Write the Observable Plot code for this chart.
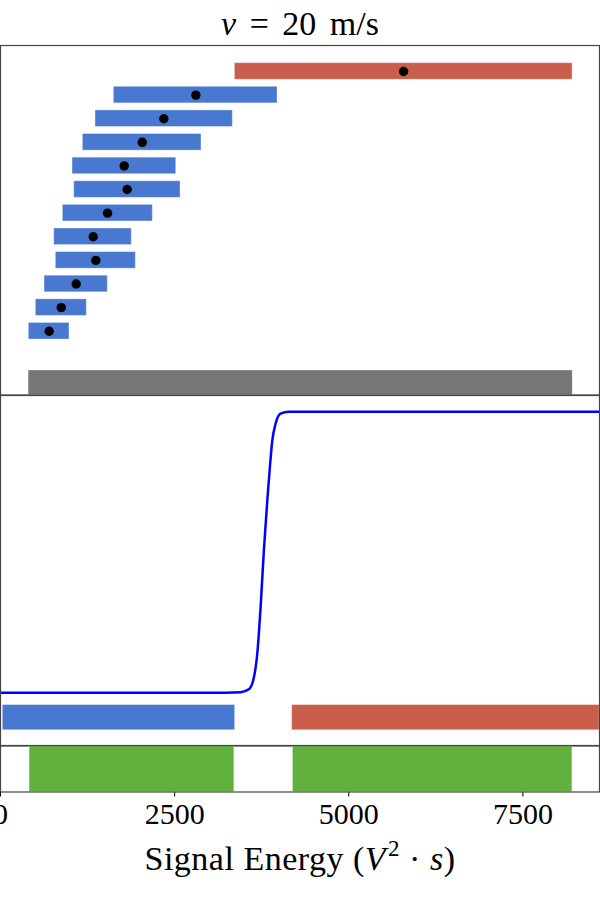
<!DOCTYPE html>
<html><head><meta charset="utf-8">
<script src="https://cdn.jsdelivr.net/npm/d3@7"></script>
<script src="https://cdn.jsdelivr.net/npm/@observablehq/plot@0.6"></script>
<style>
body{margin:0;background:#fff;}
#root{position:relative;width:600px;height:900px;overflow:hidden;font-family:"Liberation Serif",serif;background:#fff;}
.panel{position:absolute;left:0;}
.t{position:absolute;left:0;width:600px;text-align:center;font-size:34px;line-height:34px;color:#000;white-space:nowrap;}
</style></head><body><div id="root"></div>
<script>
// ---- data ----
const xDomain = [0, 8600];
const xTicks = [0, 2500, 5000, 7500];
// top panel: interval rows (top to bottom)
const rowClass = ["high","low","low","low","low","low","low","low","low","low","low","low"];
const rowLo  = [3365, 1627, 1364, 1182, 1034, 1058,  895,  771,  794,  632,  507,  406];
const rowHi  = [8214, 3978, 3336, 2886, 2523, 2585, 2187, 1885, 1943, 1541, 1239,  991];
const rowMed = [5787, 2805, 2345, 2035, 1776, 1819, 1537, 1331, 1369, 1087,  872,  699];
// overall range (gray)
const allRange = [406, 8214];
// middle panel: fitted probability curve
const sigE = [0, 3000, 3450, 3566, 3637, 3686, 3734, 3781, 3830, 3867, 3902, 3949, 4021, 4140, 4600, 8600];
const sigP = [0, 0, 0.002, 0.012, 0.053, 0.137, 0.303, 0.505, 0.683, 0.801, 0.897, 0.957, 0.993, 1, 1, 1];
// middle panel: class intervals
const clsName = ["low", "high"];
const clsLo = [33, 4187];
const clsHi = [3369, 8600];
// bottom panel: green intervals
const greenLo = [418, 4199];
const greenHi = [3357, 8211];

const colors = {low: "#4878CF", high: "#C95E4A", green: "#62B03E", gray: "#767676", curve: "#0000FF"};

// ---- build ----
const root = document.getElementById("root");
function place(svg, top) {
  svg.classList.add("panel");
  svg.style.top = top + "px";
  root.appendChild(svg);
}
const common = {width: 600, marginLeft: 0, marginRight: 1, style: {fontFamily: "Liberation Serif", background: "transparent", color: "black"}};
const colorScale = {domain: ["low", "high"], range: [colors.low, colors.high]};

const rows = rowLo.map((lo, i) => ({i, lo, hi: rowHi[i], med: rowMed[i], cls: rowClass[i]}));
const h = 0.352;
const p1 = Plot.plot({
  ...common, height: 353.5, marginTop: 2, marginBottom: 2,
  x: {domain: xDomain, axis: null},
  y: {domain: [-1.1, 13.7], reverse: true, axis: null},
  color: colorScale,
  marks: [
    Plot.rect(rows, {x1: "lo", x2: "hi", y1: d => d.i - h, y2: d => d.i + h, fill: "cls", stroke: "white", strokeOpacity: 0.4, strokeWidth: 1}),
    Plot.rect([allRange], {x1: d => d[0], x2: d => d[1], y1: 12.67, y2: 13.7, fill: colors.gray}),
    Plot.dot(rows, {x: "med", y: "i", r: 4.7, fill: "black"}),
    Plot.frame({stroke: "#444", strokeWidth: 1.2})
  ]
});
place(p1, 43);

const curve = sigE.map((e, i) => ({e, p: sigP[i]}));
const cls = clsName.map((c, i) => ({c, lo: clsLo[i], hi: clsHi[i]}));
const p2 = Plot.plot({
  ...common, height: 354.5, marginTop: 2, marginBottom: 2,
  x: {domain: xDomain, axis: null},
  y: {domain: [-0.1897, 1.0577], axis: null},
  color: colorScale,
  marks: [
    Plot.rect(cls, {x1: "lo", x2: "hi", y1: -0.1338, y2: -0.0438, fill: "c", stroke: "white", strokeOpacity: 0.4, strokeWidth: 1}),
    Plot.line(curve, {x: "e", y: "p", stroke: colors.curve, strokeWidth: 2.5, curve: "monotone-x"}),
    Plot.frame({stroke: "#444", strokeWidth: 1.2})
  ]
});
place(p2, 392.5);

const greens = greenLo.map((lo, i) => ({lo, hi: greenHi[i]}));
const p3 = Plot.plot({
  ...common, height: 93.5, marginTop: 2, marginBottom: 45,
  style: {...common.style, fontSize: "30px"},
  x: {domain: xDomain, ticks: xTicks, tickSize: 5, tickPadding: 6, tickFormat: d => String(d), label: null},
  y: {domain: [0, 1], axis: null},
  marks: [
    Plot.rect(greens, {x1: "lo", x2: "hi", y1: 0, y2: 1, fill: colors.green, stroke: "white", strokeOpacity: 0.3, strokeWidth: 1}),
    Plot.frame({stroke: "#444", strokeWidth: 1.2})
  ]
});
place(p3, 743);

const title = document.createElement("div");
title.className = "t";
title.style.top = "6.5px";
title.style.wordSpacing = "5px";
title.innerHTML = "<i>v</i> = 20 m/s";
root.appendChild(title);

const xl = document.createElement("div");
xl.className = "t";
xl.style.top = "841.5px";
xl.style.letterSpacing = "0.5px";
xl.innerHTML = 'Signal Energy (<i>V</i><span style="font-size:23px;position:relative;top:-14px;margin-left:2px">2</span> · <i>s</i>)';
root.appendChild(xl);
</script>
</body></html>
